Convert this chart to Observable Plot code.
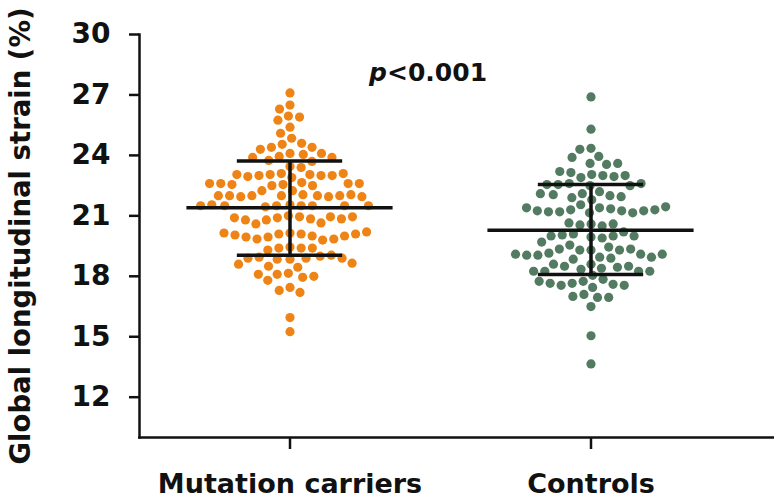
<!DOCTYPE html>
<html>
<head>
<meta charset="utf-8">
<script src="https://cdn.jsdelivr.net/npm/d3@7"></script>
<script src="https://cdn.jsdelivr.net/npm/@observablehq/plot@0.6"></script>
<style>
  html, body { margin: 0; padding: 0; background: #fff; }
  #chart svg { display: block; }
</style>
</head>
<body>
<div id="chart"></div>
<script>
const groups = ["Mutation carriers", "Controls"];
const colors = ["#EF8416", "#527B61"];

const carriers = [
  27.1,
  26.5, 26.3,
  25.95, 25.9,
  25.75,
  25.4,
  25.1,
  24.85,
  24.6, 24.55,
  24.4, 24.4,
  24.3,
  24.1, 24.1, 24.05,
  23.95, 23.9, 23.9,
  23.75, 23.7,
  23.45, 23.4,
  23.1, 23.05, 23.05, 23.0, 23.0, 22.95, 23.0, 23.05, 23.1, 22.9,
  22.65, 22.6, 22.55, 22.5, 22.55, 22.6, 22.6, 22.6, 22.5,
  22.25, 22.25,
  22.05, 22.0, 22.0, 22.0, 21.95, 21.95, 22.0, 22.0, 22.05, 22.0, 21.95,
  21.55, 21.5, 21.5, 21.5, 21.45, 21.5, 21.5, 21.55, 21.5, 21.5,
  21.0, 20.95, 20.9, 20.85, 20.8, 20.65, 20.6, 20.95, 20.8, 20.85, 20.9, 20.95,
  20.15, 20.1, 20.1, 20.0, 19.95, 19.85, 19.8, 19.85, 19.95, 20.0, 20.05, 20.1, 20.15, 20.2,
  19.45, 19.4, 19.4, 19.4, 19.3,
  19.0, 18.95, 18.85, 19.05, 18.9, 18.9, 18.85, 18.9,
  18.6, 18.45, 18.5, 18.65,
  18.15, 18.1, 17.95, 17.8, 18.0, 18.1,
  17.45, 17.3, 17.2,
  15.95,
  15.25
];

const controls = [
  26.9,
  25.3,
  24.35, 24.3,
  23.95, 23.9,
  23.6, 23.55, 23.6,
  23.05, 22.9, 23.15, 23.0, 23.2, 22.95, 23.0,
  22.6, 22.55, 22.5, 22.5, 22.55, 22.6,
  22.2, 22.1, 22.0, 21.9, 21.8, 21.95, 22.05, 22.1,
  21.55, 21.4, 21.35, 21.3, 21.25, 21.2, 21.15, 21.15, 21.2, 21.25, 21.25, 21.3, 21.4, 21.45,
  20.6, 20.55, 20.5, 20.6, 20.65,
  19.95, 20.1, 19.9, 20.0, 20.05, 20.2, 20.0, 20.0,
  19.3, 19.3, 19.55, 19.45, 19.7, 19.3, 19.35, 19.35,
  19.15, 19.1, 19.05, 18.95, 18.85, 18.9, 18.95, 19.05, 19.1, 19.1,
  18.6, 18.5, 18.45, 18.35, 18.4, 18.5, 18.6,
  18.05, 18.25, 18.25, 18.25, 18.25, 17.85,
  17.75, 17.65, 17.6, 17.55, 17.45, 17.55, 17.65, 17.75,
  17.1, 16.95, 16.95, 17.0,
  16.5,
  15.05,
  13.65
];

const means = [21.4, 20.28];
const sdUpper = [23.72, 22.55];
const sdLower = [19.04, 18.09];
const yTicks = [12, 15, 18, 21, 24, 27, 30];
const yDomain = [10, 30];
const yLabel = "Global longitudinal strain (%)";
const pItalic = "p";
const pRest = "<0.001";
const pValueY = 28.1;

const points = [
  ...carriers.map(v => ({group: groups[0], value: v})),
  ...controls.map(v => ({group: groups[1], value: v}))
];
const summary = groups.map((g, i) => ({group: g, mean: means[i], upper: sdUpper[i], lower: sdLower[i]}));

const meanHalf = 0.685;
const sdHalf = 0.35;
const bold = "'DejaVu Sans', sans-serif";

const chart = Plot.plot({
  width: 774,
  height: 499,
  marginLeft: 137,
  marginRight: 0,
  marginTop: 34,
  marginBottom: 62,
  style: {fontFamily: bold, color: "#111", background: "#fff"},
  fx: {domain: groups, paddingInner: 0, paddingOuter: 0.0581, align: 0.0714, label: null},
  x: {domain: [-1, 1], axis: null},
  y: {domain: yDomain, axis: null},
  color: {domain: groups, range: colors},
  marks: [
    Plot.frame({anchor: "left", facet: "super", stroke: "#111", strokeWidth: 2.5}),
    Plot.frame({anchor: "bottom", facet: "super", insetRight: -32, stroke: "#111", strokeWidth: 2.5}),
    Plot.axisY(yTicks, {
      tickSize: 10, tickPadding: 19, strokeWidth: 2.5, stroke: "#111",
      fontSize: 28, fontWeight: "bold", fontFamily: bold, fill: "#111",
      label: null
    }),
    Plot.text([yLabel], {
      facet: "super", frameAnchor: "left", rotate: -90, dx: -118, text: d => d,
      textAnchor: "middle", fontSize: 27.5, fontWeight: "bold", fontFamily: bold, fill: "#111"
    }),
    Plot.axisFx({
      anchor: "bottom", tickSize: 12, tickPadding: 24, strokeWidth: 2.5, stroke: "#111",
      fontSize: 27, fontWeight: "bold", fontFamily: bold, fill: "#111", label: null
    }),
    Plot.dot(points, Plot.dodgeX({anchor: "middle", padding: 2.0}, {
      fx: "group", y: "value", r: 4.6, fill: "group", stroke: "none"
    })),
    Plot.ruleY(summary, {fx: "group", y: "mean", x1: -meanHalf, x2: meanHalf, stroke: "#111", strokeWidth: 3.5}),
    Plot.ruleY(summary, {fx: "group", y: "upper", x1: -sdHalf, x2: sdHalf, stroke: "#111", strokeWidth: 3.5}),
    Plot.ruleY(summary, {fx: "group", y: "lower", x1: -sdHalf, x2: sdHalf, stroke: "#111", strokeWidth: 3.5}),
    Plot.ruleX(summary, {fx: "group", x: 0, y1: "lower", y2: "upper", stroke: "#111", strokeWidth: 3.5}),
    Plot.text([pItalic], {fx: [groups[0]], y: [pValueY], x: [0], dx: 97, text: d => d, textAnchor: "end",
      fontSize: 25, fontWeight: "bold", fontStyle: "italic", fontFamily: bold, fill: "#111"}),
    Plot.text([pRest], {fx: [groups[0]], y: [pValueY], x: [0], dx: 97, text: d => d, textAnchor: "start",
      fontSize: 25, fontWeight: "bold", fontFamily: bold, fill: "#111"})
  ]
});
document.getElementById("chart").appendChild(chart);
</script>
</body>
</html>
